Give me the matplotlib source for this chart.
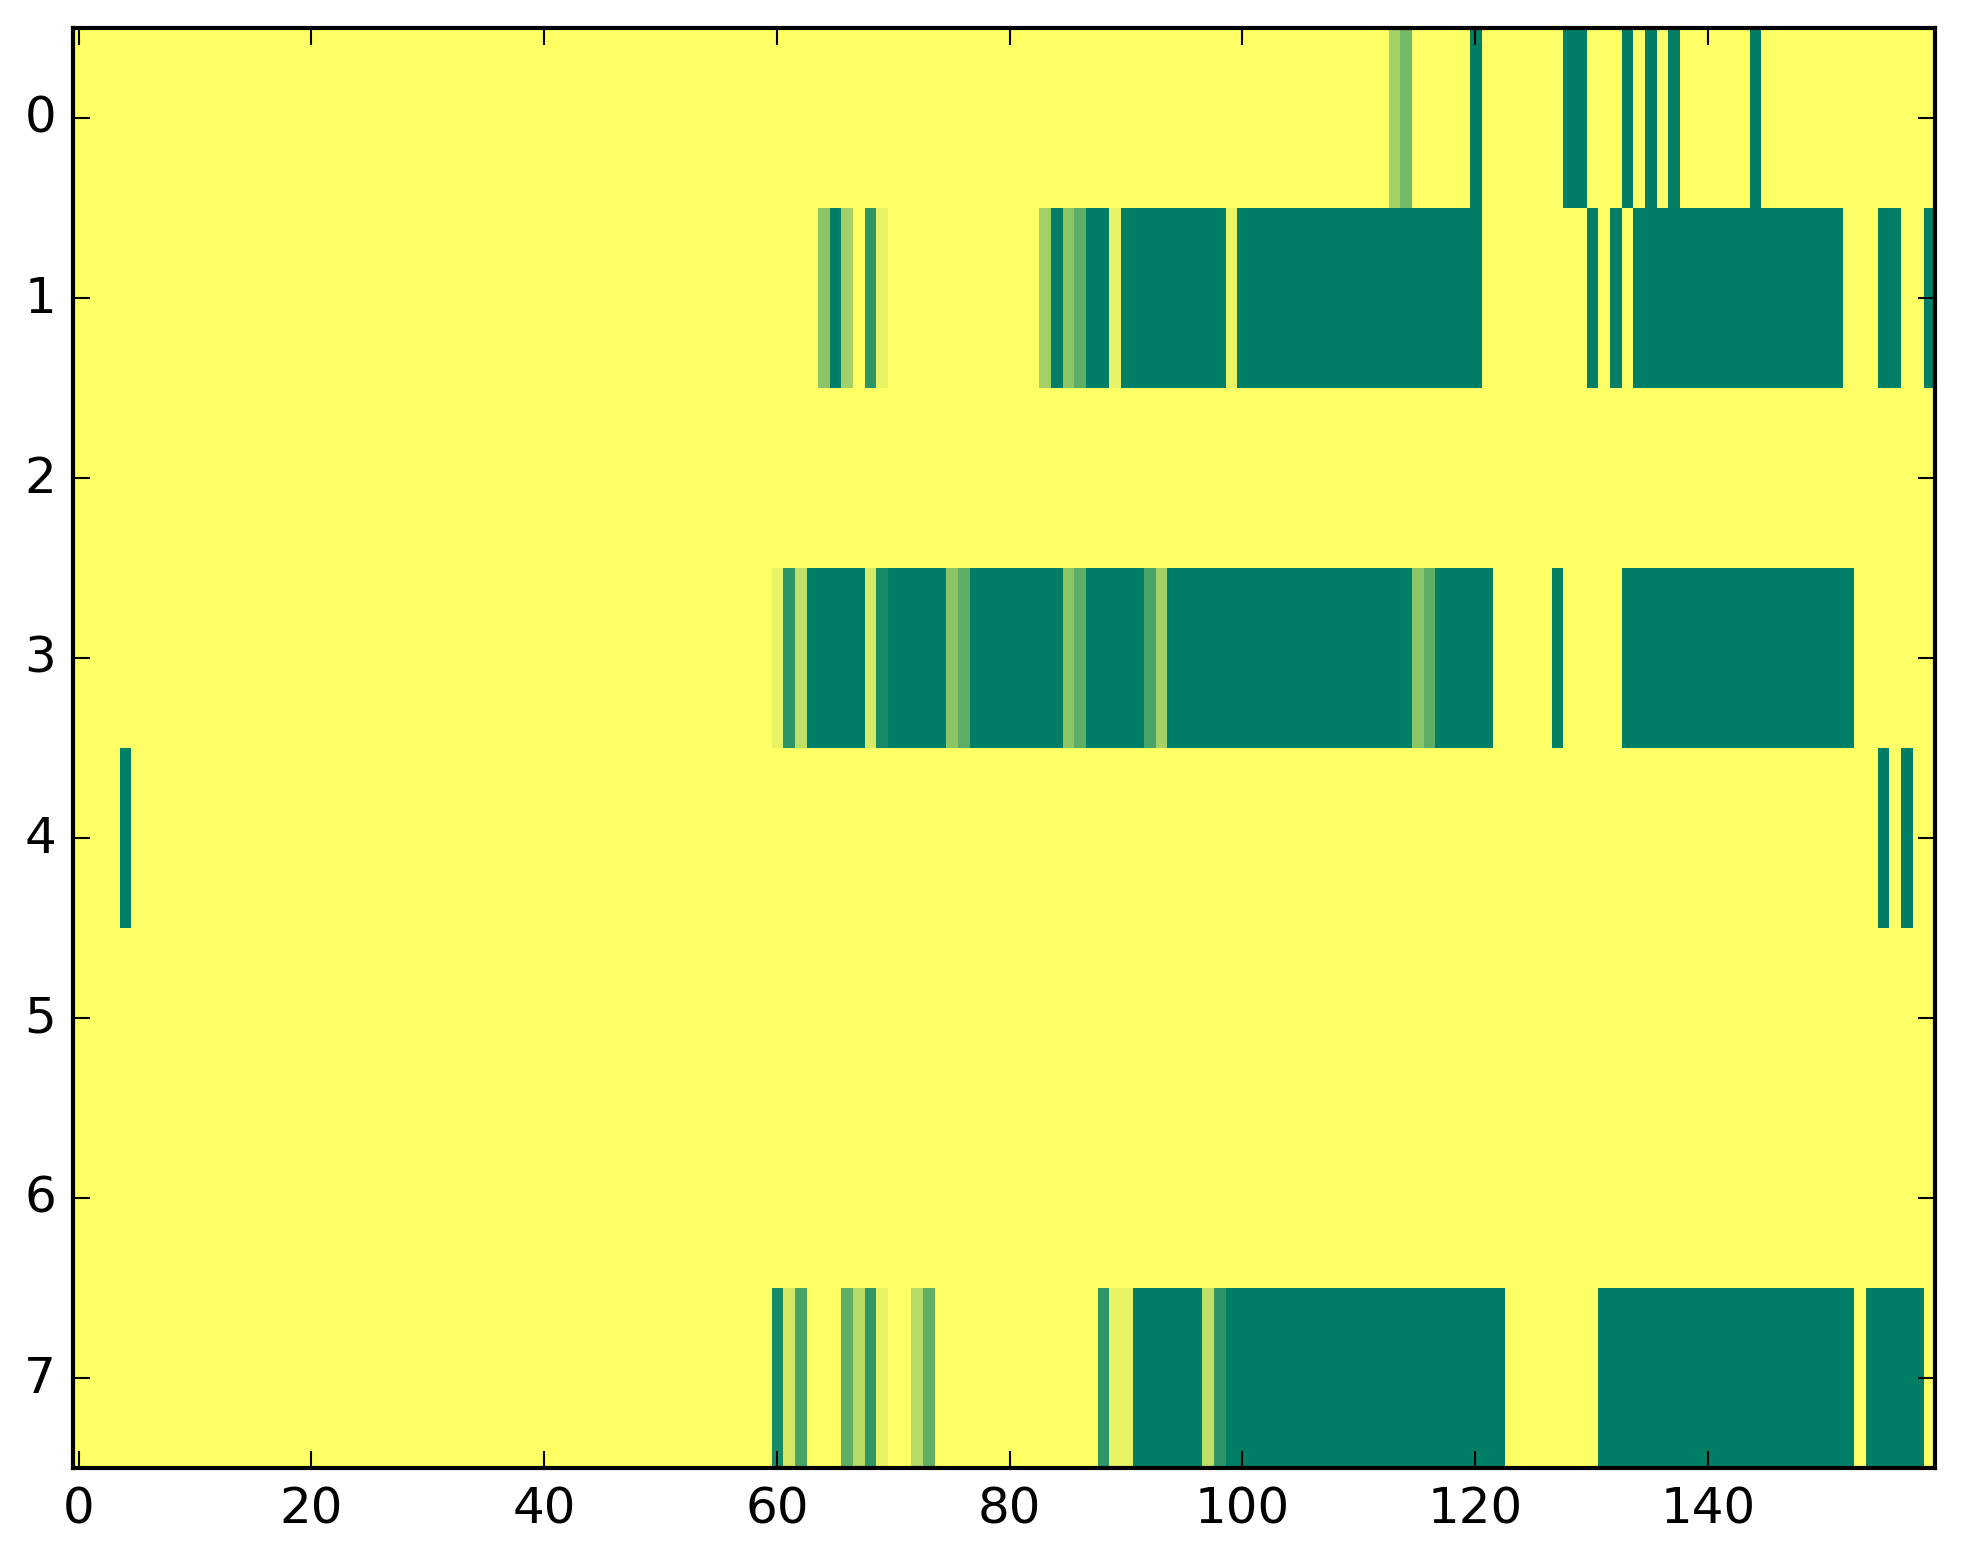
import numpy as np
import matplotlib
matplotlib.use('Agg')
import matplotlib.pyplot as plt

n_rows = 8
n_cols = 160

# Non-yellow cells per row: (first column, last column, value); all other cells are 1.0
row0_runs = [(113, 113, 0.64), (114, 114, 0.45), (120, 120, 0.0), (128, 129, 0.0),
             (133, 133, 0.0), (135, 135, 0.0), (137, 137, 0.0), (144, 144, 0.0)]
row1_runs = [(64, 64, 0.55), (65, 65, 0.0), (66, 66, 0.64), (68, 68, 0.18), (69, 69, 0.91),
             (83, 83, 0.64), (84, 84, 0.0), (85, 85, 0.55), (86, 86, 0.37), (87, 88, 0.0),
             (89, 89, 0.91), (90, 98, 0.0), (99, 99, 0.91), (100, 120, 0.0),
             (130, 130, 0.0), (132, 132, 0.0), (134, 151, 0.0), (155, 156, 0.0),
             (159, 159, 0.0)]
row2_runs = []
row3_runs = [(60, 60, 0.91), (61, 61, 0.18), (62, 62, 0.75), (63, 67, 0.0), (68, 68, 0.84),
             (69, 69, 0.09), (70, 74, 0.0), (75, 75, 0.55), (76, 76, 0.37), (77, 84, 0.0),
             (85, 85, 0.55), (86, 86, 0.37), (87, 91, 0.0), (92, 92, 0.28), (93, 93, 0.64),
             (94, 114, 0.0), (115, 115, 0.55), (116, 116, 0.37), (117, 121, 0.0),
             (127, 127, 0.0), (133, 152, 0.0)]
row4_runs = [(4, 4, 0.0), (155, 155, 0.0), (157, 157, 0.0)]
row5_runs = []
row6_runs = []
row7_runs = [(60, 60, 0.09), (61, 61, 0.83), (62, 62, 0.28), (66, 66, 0.37), (67, 67, 0.72),
             (68, 68, 0.18), (69, 69, 0.91), (72, 72, 0.72), (73, 73, 0.37),
             (88, 88, 0.18), (89, 90, 0.91), (91, 96, 0.0), (97, 97, 0.75), (98, 98, 0.18),
             (99, 122, 0.0), (131, 152, 0.0), (154, 158, 0.0)]

all_runs = [row0_runs, row1_runs, row2_runs, row3_runs,
            row4_runs, row5_runs, row6_runs, row7_runs]

data = np.ones((n_rows, n_cols))
for r, runs in enumerate(all_runs):
    for a, b, v in runs:
        data[r, a:b + 1] = v

plt.style.use('classic')
W, H = 1963, 1564
fig = plt.figure(figsize=(W / 300, H / 300), dpi=300, facecolor='white')
left, right, top, bottom = 72.7, 1935.0, 28.7, 1468.7
ax = fig.add_axes([left / W, 1 - bottom / H, (right - left) / W, (bottom - top) / H])
ax.imshow(data, cmap='summer', aspect='auto', interpolation='nearest', vmin=0, vmax=1)
ax.set_xlim(-0.5, n_cols - 0.5)
ax.set_ylim(n_rows - 0.5, -0.5)
ax.set_xticks(np.arange(0, 141, 20))
ax.set_yticks(np.arange(0, n_rows))
ax.tick_params(labelsize=12)
fig.savefig('out.png', dpi=300, facecolor='white')
